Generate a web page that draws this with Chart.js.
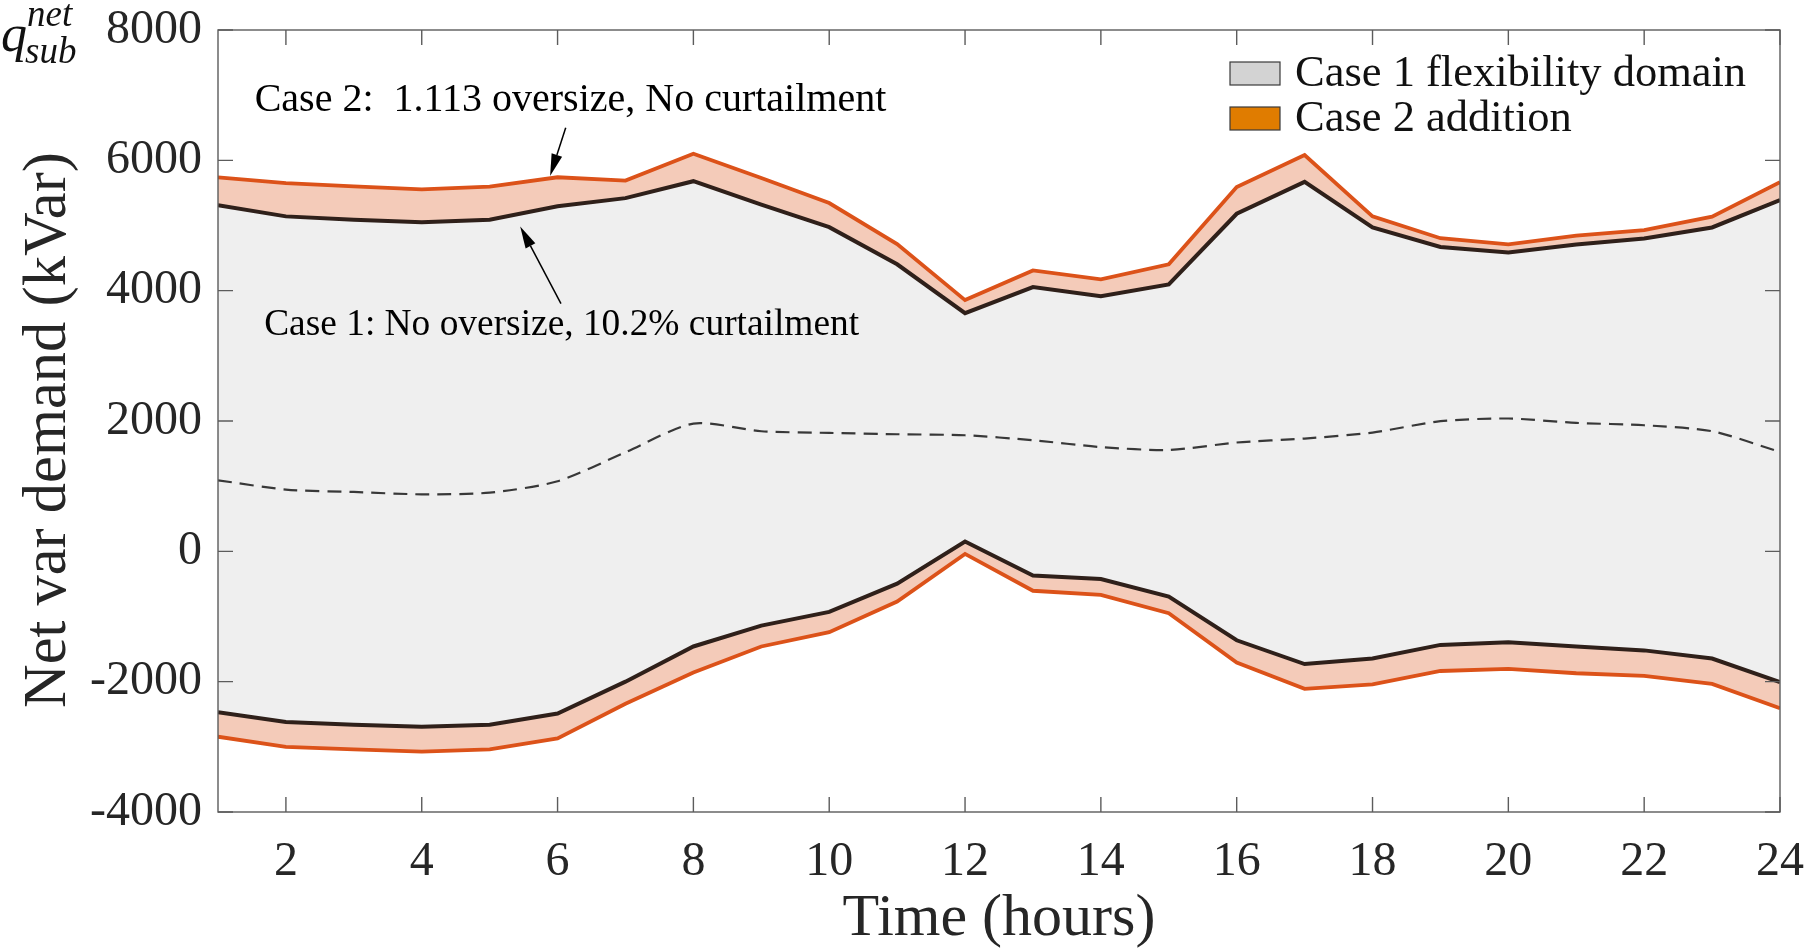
<!DOCTYPE html>
<html>
<head>
<meta charset="utf-8">
<script src="https://cdn.jsdelivr.net/npm/chart.js@4.4.1/dist/chart.umd.min.js"></script>
<style>
  html, body { margin:0; padding:0; background:#fff; }
  #wrap { width:1814px; height:950px; }
  #probe { position:absolute; left:-9999px; font-family:"Liberation Serif"; }
</style>
</head>
<body>
<div id="wrap"><canvas id="chart"></canvas></div>
<span id="probe">Case <i>q</i></span>
<script>
// ---- data ----
const hours = [1,2,3,4,5,6,7,8,9,10,11,12,13,14,15,16,17,18,19,20,21,22,23,24];
const case1Upper = [5310,5140,5090,5050,5090,5295,5420,5680,5320,4975,4405,3655,4055,3915,4095,5180,5670,4970,4670,4585,4710,4800,4970,5390];
const case1Lower = [-2470,-2620,-2660,-2690,-2660,-2490,-2000,-1460,-1140,-930,-495,150,-370,-425,-695,-1365,-1730,-1645,-1436,-1395,-1460,-1520,-1645,-2005];
const case2Upper = [5740,5650,5600,5555,5595,5740,5690,6100,5730,5345,4715,3855,4310,4175,4405,5590,6080,5140,4805,4710,4845,4930,5135,5665];
const case2Lower = [-2845,-3000,-3040,-3075,-3040,-2870,-2340,-1860,-1460,-1240,-770,-40,-605,-668,-950,-1708,-2110,-2040,-1836,-1805,-1871,-1912,-2035,-2408];
const baseline   = [1090,948,911,875,901,1075,1520,1961,1843,1817,1797,1781,1705,1600,1555,1670,1731,1823,1997,2038,1971,1935,1843,1525];
const xTicks = [2,4,6,8,10,12,14,16,18,20,22,24];
const yTicks = [-4000,-2000,0,2000,4000,6000,8000];

const SERIF = '"Liberation Serif", "Times New Roman", Times, serif';
const ORANGE = '#dc5219';
const DARK = '#2f201a';

const pts = arr => hours.map((h,i) => ({x:h, y:arr[i]}));

/* ---------- frame with inward ticks (MATLAB look) ---------- */
const framePlugin = {
  id:'frame',
  afterDatasetsDraw(chart){
    const {ctx, chartArea:a, scales:{x, y}} = chart;
    ctx.save();
    ctx.strokeStyle = '#5c5c5c'; ctx.lineWidth = 1.4;
    ctx.strokeRect(a.left, a.top, a.right-a.left, a.bottom-a.top);
    const tl = 15;
    ctx.beginPath();
    xTicks.forEach(v => {
      const px = x.getPixelForValue(v);
      ctx.moveTo(px, a.bottom); ctx.lineTo(px, a.bottom-tl);
      ctx.moveTo(px, a.top); ctx.lineTo(px, a.top+tl);
    });
    yTicks.forEach(v => {
      const py = y.getPixelForValue(v);
      ctx.moveTo(a.left, py); ctx.lineTo(a.left+tl, py);
      ctx.moveTo(a.right, py); ctx.lineTo(a.right-tl, py);
    });
    ctx.stroke();
    ctx.restore();
  }
};

/* ---------- legend, annotations, labels ---------- */
const notes = [
  {text:'Case 2:  1.113 oversize, No curtailment', x:6.19, y:6920, size:40, from:[6.12,6500], to:[5.89,5760]},
  {text:'Case 1: No oversize, 10.2% curtailment',  x:6.06, y:3465, size:37.4, from:[6.05,3800], to:[5.45,4985]},
];
const legendItems = [
  {label:'Case 1 flexibility domain', color:'#d3d3d3'},
  {label:'Case 2 addition', color:'#e07c00'},
];

function arrow(ctx, x1, y1, x2, y2){
  const ang = Math.atan2(y2-y1, x2-x1), L = 22, W = 5.5;
  const bx = x2 - L*Math.cos(ang), by = y2 - L*Math.sin(ang);
  ctx.beginPath(); ctx.moveTo(x1,y1); ctx.lineTo(bx,by); ctx.stroke();
  ctx.beginPath();
  ctx.moveTo(x2,y2);
  ctx.lineTo(bx + W*Math.sin(ang), by - W*Math.cos(ang));
  ctx.lineTo(bx - W*Math.sin(ang), by + W*Math.cos(ang));
  ctx.closePath(); ctx.fill();
}

const decorPlugin = {
  id:'decor',
  afterDraw(chart){
    const {ctx, chartArea:a, scales:{x, y}} = chart;
    ctx.save();
    // annotations
    ctx.fillStyle = '#000'; ctx.strokeStyle = '#000'; ctx.lineWidth = 1.5;
    ctx.textAlign = 'center'; ctx.textBaseline = 'middle';
    notes.forEach(n => {
      ctx.font = `${n.size}px ${SERIF}`;
      ctx.fillText(n.text, x.getPixelForValue(n.x), y.getPixelForValue(n.y));
      arrow(ctx, x.getPixelForValue(n.from[0]), y.getPixelForValue(n.from[1]),
                 x.getPixelForValue(n.to[0]),   y.getPixelForValue(n.to[1]));
    });
    // legend (top right, inside axes)
    ctx.textAlign = 'left';
    ctx.font = `44.5px ${SERIF}`;
    const lx = a.right - 550, ly = a.top + 43;
    legendItems.forEach((it, i) => {
      const cy = ly + i*45;
      ctx.fillStyle = it.color;
      ctx.fillRect(lx, cy-11, 50, 23);
      ctx.strokeStyle = '#3a3a3a'; ctx.lineWidth = 1.2;
      ctx.strokeRect(lx, cy-11, 50, 23);
      ctx.fillStyle = '#111';
      ctx.fillText(it.label, lx + 65, cy + 1);
    });
    // y axis title, a little below the axis centre as in the figure
    ctx.save();
    ctx.translate(49, (a.top + a.bottom)/2 + 9);
    ctx.rotate(-Math.PI/2);
    ctx.textAlign = 'center';
    ctx.fillStyle = '#262626';
    ctx.font = `60.5px ${SERIF}`;
    ctx.fillText('Net var demand (kVar)', 0, 0);
    ctx.restore();
    // q_sub^net label
    ctx.fillStyle = '#111';
    ctx.textAlign = 'left';
    ctx.textBaseline = 'alphabetic';
    ctx.font = `italic 52px ${SERIF}`;
    ctx.fillText('q', 1, 51);
    ctx.font = `italic 37px ${SERIF}`;
    ctx.fillText('net', 27, 26);
    ctx.fillText('sub', 25, 63);
    ctx.restore();
  }
};

function build(){
  new Chart(document.getElementById('chart'), {
    type:'line',
    data:{
      datasets:[
        {data:pts(baseline), borderColor:'#383838', borderWidth:2.2, borderDash:[14,8], pointRadius:0, fill:false, tension:0.25},
        {data:pts(case1Upper), borderColor:DARK, borderWidth:4, pointRadius:0, fill:'+1', backgroundColor:'#efefef'},
        {data:pts(case1Lower), borderColor:DARK, borderWidth:4, pointRadius:0, fill:false},
        {data:pts(case2Upper), borderColor:ORANGE, borderWidth:3.8, pointRadius:0, fill:'+1', backgroundColor:'#f4cbb9'},
        {data:pts(case2Lower), borderColor:ORANGE, borderWidth:3.8, pointRadius:0, fill:false},
      ]
    },
    options:{
      responsive:true, maintainAspectRatio:false, animation:false,
      layout:{padding:{left:0, right:34, top:30, bottom:0}},
      plugins:{legend:{display:false}, tooltip:{enabled:false}, filler:{drawTime:'beforeDatasetsDraw'}},
      scales:{
        x:{type:'linear', min:1, max:24,
          afterBuildTicks: s => { s.ticks = xTicks.map(v => ({value:v})); },
          afterFit: s => { s.height = 138; s.paddingLeft = 0; s.paddingRight = 0; },
          grid:{display:false, drawTicks:false}, border:{display:false},
          ticks:{padding:22, color:'#262626', font:{family:SERIF, size:48}, maxRotation:0, autoSkip:false,
                 callback: v => String(v)},
          title:{display:true, text:'Time (hours)', color:'#262626', font:{family:SERIF, size:60, lineHeight:1}, padding:{top:0, bottom:1}}
        },
        y:{min:-4000, max:8000,
          afterBuildTicks: s => { s.ticks = yTicks.map(v => ({value:v})); },
          afterFit: s => { s.width = 218; s.paddingTop = 0; s.paddingBottom = 0; },
          grid:{display:false, drawTicks:false}, border:{display:false},
          ticks:{padding:16, color:'#262626', font:{family:SERIF, size:48}, autoSkip:false,
                 callback: v => String(v)}
        }
      }
    },
    plugins:[framePlugin, decorPlugin]
  });
}

Promise.all([
  document.fonts.load('48px "Liberation Serif"'),
  document.fonts.load('italic 48px "Liberation Serif"')
]).catch(() => {}).then(build);
</script>
</body>
</html>
